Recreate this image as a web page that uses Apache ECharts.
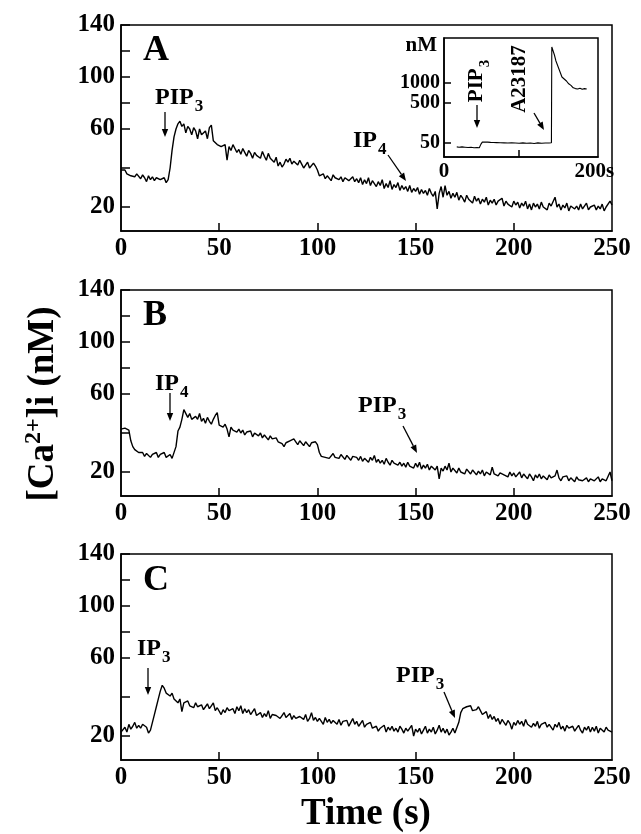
<!DOCTYPE html>
<html>
<head>
<meta charset="utf-8">
<title>[Ca2+]i traces</title>
<script src="https://cdn.jsdelivr.net/npm/echarts@6/dist/echarts.min.js"></script>
<style>
  html, body { margin: 0; padding: 0; background: #fff; }
  #chart { width: 641px; height: 834px; }
</style>
</head>
<body>
<div id="chart"></div>
<script>
// ---- data ----
// one sample per second, t = 0 .. 250 s, [Ca2+]i in nM
const sampleStep = 1;

// A: PIP3 added ~24 s, IP4 ~150 s
const caA = [
  39, 39, 39, 37, 37.5, 36, 37, 35.5, 37, 36,
  34.5, 36.5, 35, 33, 36, 34, 35.5, 33.5, 35, 36,
  34, 33, 35, 32.5, 34, 40, 49, 56, 60, 64,
  66, 62, 64, 58, 62, 60, 57, 61, 59, 55,
  60, 57, 56, 59, 55, 61, 63, 54, 55, 52,
  53, 51, 50.5, 52, 44, 51, 49, 52, 50, 48,
  49.5, 47, 50, 48, 46, 49, 47.5, 45, 48, 46.5,
  47, 45, 48.5, 46, 44, 47.5, 45, 46, 43, 45.5,
  41, 43, 40.5, 42, 44.5, 43, 45, 42, 43.5, 44,
  41.5, 44, 42, 40, 41.5, 43, 40, 41, 42.5, 41,
  39, 36, 35, 37, 34.5, 36, 35, 33.5, 36.5, 35,
  36, 34, 35.5, 33, 35, 36, 33.5, 34, 35.5, 33,
  34.5, 32.5, 35, 31.5, 34, 32, 35, 31, 33.5, 34,
  30.5, 33, 31, 34, 29.5, 32, 30, 33.5, 29, 31.5,
  30, 32.5, 28.5, 31, 29, 30.5, 28, 31, 27.5, 29.5,
  28, 30, 26.5, 29, 27, 28.5, 26, 29.5, 27, 25.5,
  28, 19, 27, 30.5, 25, 31, 26, 28, 24.5, 27,
  25, 27.5, 23.5, 26, 24.5, 22.5, 26, 24, 25, 22,
  25.5, 23, 24.5, 21.5, 24, 22.5, 25, 21, 23.5, 22,
  24, 21, 23, 22, 24.5, 20.5, 23, 21.5, 22.5, 20,
  23, 21, 22.5, 19.5, 22, 20.5, 23, 19, 21.5, 18.5,
  22, 20, 21.5, 19, 22.5, 20, 21, 18.5, 22, 20.5,
  19.5, 25, 20, 21.5, 18.5, 21, 19.5, 22, 18, 20.5,
  21, 19, 20.5, 18.5, 21.5, 19, 20, 22, 18.5, 20,
  19.5, 21, 18.5, 20.5, 19, 21.5, 18, 20, 19.5, 23,
  21
];

// B: IP4 added ~27 s, PIP3 ~150 s
const caB = [
  42, 41, 42.5, 42, 41.5, 36, 33, 31.5, 32, 30,
  29, 30, 28, 29.5, 28.5, 27.5, 29, 28, 30, 27.5,
  29, 28, 30, 27.5, 28.5, 29, 27, 28, 33, 41,
  43, 47, 52, 51, 48, 50, 47, 46, 48.5, 47,
  50, 46, 47.5, 45, 48, 46, 44.5, 47, 49, 50.5,
  44, 45, 43, 44.5, 42, 38, 43, 41.5, 42.5, 40.5,
  42, 40, 41.5, 39, 40.5, 39.5, 41, 38, 40, 39,
  38.5, 40, 37.5, 39, 38, 36.5, 38.5, 37, 36, 37.5,
  35.5, 36.5, 34.5, 33, 35, 34, 36, 35, 37, 35.5,
  34, 36, 35, 33.5, 35.5, 34.5, 33, 35, 34, 35.5,
  34, 30, 28, 29, 27.5, 28.5, 27, 28, 29.5, 27.5,
  28.5, 27, 29, 28, 26.5, 28.5, 27.5, 26, 28, 27,
  27.5, 26, 28, 25.5, 27, 26.5, 25, 27.5, 26, 28.5,
  25, 26.5, 24.5, 26, 24, 27, 25, 23.5, 26, 24.5,
  25.5, 23.5, 25, 23, 24.5, 22.5, 25, 23, 24, 22,
  24.5, 22.5, 25, 21.5, 23.5, 22, 24, 21, 23, 22.5,
  21, 23, 16.5, 22, 20.5, 23, 21, 24.5, 20, 22,
  21.5, 19.5, 22, 20, 21, 19, 21.5, 20.5, 19, 21,
  20, 18.5, 20.5, 19, 21, 18, 20, 19.5, 18.5, 22.5,
  19, 20, 18, 19.5, 20.5, 18.5, 19, 17.5, 20, 18,
  19.5, 17.5, 18.5, 20, 17, 19, 18, 16.5, 19, 17.5,
  15.5, 18.5, 17, 19, 16.5, 18, 17.5, 16, 18.5, 17,
  16, 18, 21, 17, 15.5, 17.5, 16.5, 18, 15.5, 17,
  16.5, 15, 17.5, 16, 17, 15.5, 16.5, 17, 15, 16.5,
  17, 15.5, 16, 17.5, 15, 16.5, 16, 15.5, 16, 20,
  15.5
];

// C: IP3 added ~15 s, PIP3 ~171 s
const caC = [
  22, 22, 24.5, 22, 26, 23.5, 25, 27, 24, 25.5,
  24, 26, 25, 24.5, 21.5, 23, 27, 31, 35, 39,
  43, 46, 44.5, 42, 41, 40.5, 42, 39, 40, 37,
  39, 32.5, 37, 36, 38, 35.5, 36, 34.5, 37, 35,
  34, 36, 33.5, 35, 36.5, 34, 35.5, 37, 33, 34.5,
  35, 31, 33.5, 32, 34.5, 33, 32, 34, 31.5, 35,
  33, 35.5, 31.5, 34, 32, 33.5, 31, 32.5, 34, 30.5,
  30, 32, 29.5, 31.5, 30, 33, 29, 31, 32, 30.5,
  31, 29, 30.5, 32, 29.5, 30, 31.5, 28.5, 30.5, 29,
  28, 30, 29.5, 28.5, 31, 27.5, 29, 32, 28, 29.5,
  27.5, 29, 28, 26, 29.5, 27, 28.5, 26.5, 28, 27,
  26, 28.5, 25.5, 27.5, 26.5, 28, 25, 27, 29, 26,
  27.5, 25, 26.5, 28, 24.5, 26, 25.5, 27, 24, 23,
  25, 22.5, 24, 23.5, 25.5, 22, 24.5, 23, 25, 22.5,
  24, 22, 25, 23.5, 21.5, 24, 22.5, 23, 25.5, 20,
  23.5, 22, 24, 21, 23, 25, 21.5, 23.5, 22, 24.5,
  21, 23, 25.5, 22, 24, 21.5, 23.5, 20.5, 22, 24,
  21.5, 21, 27, 32, 34, 33.5, 35, 34, 35.5, 33,
  34, 33.5, 35, 33, 31, 30, 32.5, 29, 31, 28.5,
  30, 27.5, 29, 26, 28.5, 27, 25.5, 28, 26.5, 23.5,
  27, 25.5, 28, 26, 27.5, 25, 28.5, 26, 27, 24.5,
  26.5, 25, 27.5, 24, 26, 25.5, 27, 24.5, 26, 25,
  23, 26, 24.5, 27, 23.5, 25, 22.5, 25.5, 24, 23,
  25, 22.5, 24, 25.5, 23, 21.5, 24.5, 23, 25, 22,
  24.5, 22.5, 25, 21.5, 24, 23, 22, 24.5, 23, 22.5,
  22
];

// inset of A: PIP3 then A23187
const insetTime = [17, 20, 24, 28, 32, 36, 40, 44, 47, 49, 51, 54, 58, 62, 66, 70, 75, 80, 85, 90,
  95, 100, 105, 110, 115, 120, 125, 130, 135, 140, 143, 143.5, 145, 147, 149, 151, 153, 155, 157, 160,
  163, 166, 169, 172, 175, 178, 181, 184, 187, 190];
const insetCa = [36, 35, 36, 35, 34, 35, 33, 34, 33, 45, 60, 62, 60, 57, 55, 54, 52, 51, 50, 52,
  50, 49, 51, 49, 50, 48, 51, 49, 50, 50, 52, 1900, 1950, 1700, 1550, 1450, 1350, 1250, 1150, 1100,
  1050, 980, 940, 880, 860, 850, 870, 845, 860, 850];

// tick values
const xTicks = [50, 100, 150, 200];
const yTicks = [20, 40, 60, 80, 100, 120, 140];
const yLabels = [20, 60, 100, 140];
const insetYLabels = [50, 500, 1000];
const insetXLabels = [0, 200];
const insetXTicks = [100];

// ---- the nM axis is not linear (calibrated ratio scale) ----
// knots: nM value -> height in px above the bottom of the plot
const mainKnotNM = [20, 60, 140];
const mainKnotPos = [24, 102, 206];
const insetKnotNM = [0, 50, 500, 1000, 2000];
const insetKnotPos = [0, 14, 54, 74, 114];

function piecewise(xs, ys, v) {
  let i = 0;
  while (i < xs.length - 2 && v > xs[i + 1]) i++;
  return ys[i] + (v - xs[i]) * (ys[i + 1] - ys[i]) / (xs[i + 1] - xs[i]);
}
const mainScale = v => piecewise(mainKnotNM, mainKnotPos, v);
const mainInv = v => piecewise(mainKnotPos, mainKnotNM, v);
const insetScale = v => piecewise(insetKnotNM, insetKnotPos, v);
const insetInv = v => piecewise(insetKnotPos, insetKnotNM, v);

const FONT = 'Liberation Serif';
const black = '#000';

const panels = [
  { name: 'A', data: caA, top: 25 },
  { name: 'B', data: caB, top: 290 },
  { name: 'C', data: caC, top: 554 }
];

const chart = echarts.init(document.getElementById('chart'), null, { renderer: 'canvas' });

const grids = [], xAxes = [], yAxes = [], series = [];
const lineStyle = { color: black, width: 1.5 };
const labelFont = { fontFamily: FONT, fontWeight: 'bold', color: black };

panels.forEach((p, i) => {
  grids.push({ left: 121, top: p.top, width: 491, height: 206, show: true, borderColor: black, borderWidth: 1.5 });
  xAxes.push({
    type: 'value', gridIndex: i, min: 0, max: 250, interval: 50,
    axisLine: { lineStyle },
    axisTick: { inside: true, length: 8, customValues: xTicks, lineStyle },
    axisLabel: Object.assign({ fontSize: 25, margin: 5 }, labelFont),
    splitLine: { show: false }
  });
  yAxes.push({
    type: 'value', gridIndex: i, min: 0, max: 206,
    axisLine: { lineStyle },
    axisTick: { inside: true, length: 9, customValues: yTicks.map(mainScale), lineStyle },
    axisLabel: Object.assign({
      fontSize: 25, margin: 6,
      customValues: yLabels.map(mainScale),
      formatter: v => String(Math.round(mainInv(v)))
    }, labelFont),
    splitLine: { show: false }
  });
  series.push({
    type: 'line', xAxisIndex: i, yAxisIndex: i, showSymbol: false, silent: true,
    lineStyle: { color: black, width: 1.4 },
    data: p.data.map((c, k) => [k * sampleStep, mainScale(c)])
  });
});

// inset grid (index 3)
grids.push({ left: 444, top: 38, width: 154, height: 119, show: true, borderColor: black, borderWidth: 1.5 });
xAxes.push({
  type: 'value', gridIndex: 3, min: 0, max: 205,
  axisLine: { lineStyle },
  axisTick: { inside: true, length: 7, customValues: insetXTicks, lineStyle },
  axisLabel: Object.assign({
    fontSize: 21, margin: 4, customValues: insetXLabels, hideOverlap: false,
    formatter: v => (v === 0 ? '0' : v + 's')
  }, labelFont),
  splitLine: { show: false }
});
yAxes.push({
  type: 'value', gridIndex: 3, min: 0, max: 119,
  axisLine: { lineStyle },
  axisTick: { inside: true, length: 7, customValues: insetYLabels.map(insetScale), lineStyle },
  axisLabel: Object.assign({
    fontSize: 20, margin: 4, hideOverlap: false,
    customValues: insetYLabels.map(insetScale),
    formatter: v => String(Math.round(insetInv(v)))
  }, labelFont),
  splitLine: { show: false }
});
series.push({
  type: 'line', xAxisIndex: 3, yAxisIndex: 3, showSymbol: false, silent: true,
  lineStyle: { color: black, width: 1.1 },
  data: insetTime.map((t, k) => [t, insetScale(insetCa[k])])
});

// ---- annotations ----
function subText(main, sub, size) {
  return {
    text: '{m|' + main + '}{s|' + sub + '}',
    rich: {
      m: { fontFamily: FONT, fontWeight: 'bold', fontSize: size, lineHeight: size + 2, verticalAlign: 'top', fill: black },
      s: { fontFamily: FONT, fontWeight: 'bold', fontSize: Math.round(size * 0.7), lineHeight: Math.round(size * 0.75),
           verticalAlign: 'top', padding: [Math.round(size * 0.5), 0, 0, 1], fill: black }
    }
  };
}
function label(x, y, main, sub, size, rot) {
  const st = sub ? subText(main, sub, size)
    : { text: main, fontFamily: FONT, fontWeight: 'bold', fontSize: size, fill: black };
  return {
    type: 'text', x, y, rotation: rot || 0, silent: true,
    style: Object.assign(st, { align: rot ? 'center' : 'left', verticalAlign: 'middle' })
  };
}
function arrow(x1, y1, x2, y2) {
  const a = Math.atan2(y2 - y1, x2 - x1), L = 8, W = 3.2;
  const bx = x2 - L * Math.cos(a), by = y2 - L * Math.sin(a);
  const nx = -Math.sin(a) * W, ny = Math.cos(a) * W;
  return [
    { type: 'line', silent: true, shape: { x1, y1, x2: bx, y2: by }, style: { stroke: black, lineWidth: 1.3 } },
    { type: 'polygon', silent: true, shape: { points: [[x2, y2], [bx + nx, by + ny], [bx - nx, by - ny]] }, style: { fill: black } }
  ];
}

const graphic = [
  // panel letters
  { type: 'text', x: 143, y: 51, silent: true, style: { text: 'A', fontFamily: FONT, fontWeight: 'bold', fontSize: 36, fill: black, verticalAlign: 'middle' } },
  { type: 'text', x: 143, y: 316, silent: true, style: { text: 'B', fontFamily: FONT, fontWeight: 'bold', fontSize: 36, fill: black, verticalAlign: 'middle' } },
  { type: 'text', x: 143, y: 581, silent: true, style: { text: 'C', fontFamily: FONT, fontWeight: 'bold', fontSize: 36, fill: black, verticalAlign: 'middle' } },
  // axis titles
  {
    type: 'text', x: 42, y: 404, rotation: Math.PI / 2, silent: true,
    style: {
      text: '{n|[Ca}{p|2+}{n|]i (nM)}', align: 'center', verticalAlign: 'middle',
      rich: {
        n: { fontFamily: FONT, fontWeight: 'bold', fontSize: 37, lineHeight: 40, verticalAlign: 'bottom', fill: black },
        p: { fontFamily: FONT, fontWeight: 'bold', fontSize: 24, lineHeight: 24, verticalAlign: 'top', fill: black }
      }
    }
  },
  { type: 'text', x: 366, y: 814, silent: true, style: { text: 'Time (s)', fontFamily: FONT, fontWeight: 'bold', fontSize: 37, fill: black, align: 'center', verticalAlign: 'middle' } },
  // panel A
  label(155, 99, 'PIP', '3', 24),
  label(353, 142, 'IP', '4', 24),
  ...arrow(165, 112, 165, 137),
  ...arrow(388, 155, 406, 181),
  // inset
  { type: 'text', x: 437, y: 46, silent: true, style: { text: 'nM', fontFamily: FONT, fontWeight: 'bold', fontSize: 21, fill: black, align: 'right', verticalAlign: 'middle' } },
  label(478, 81, 'PIP', '3', 21, Math.PI / 2),
  label(520, 79, 'A23187', '', 21, Math.PI / 2),
  ...arrow(477, 105, 477, 128),
  ...arrow(534, 113, 544, 130),
  // panel B
  label(155, 385, 'IP', '4', 24),
  label(358, 407, 'PIP', '3', 24),
  ...arrow(170, 393, 170, 421),
  ...arrow(403, 426, 417, 453),
  // panel C
  label(137, 650, 'IP', '3', 24),
  label(396, 677, 'PIP', '3', 24),
  ...arrow(148, 668, 148, 695),
  ...arrow(444, 692, 455, 718)
];

chart.setOption({
  backgroundColor: '#fff',
  animation: false,
  grid: grids,
  xAxis: xAxes,
  yAxis: yAxes,
  series,
  graphic
});
</script>
</body>
</html>
